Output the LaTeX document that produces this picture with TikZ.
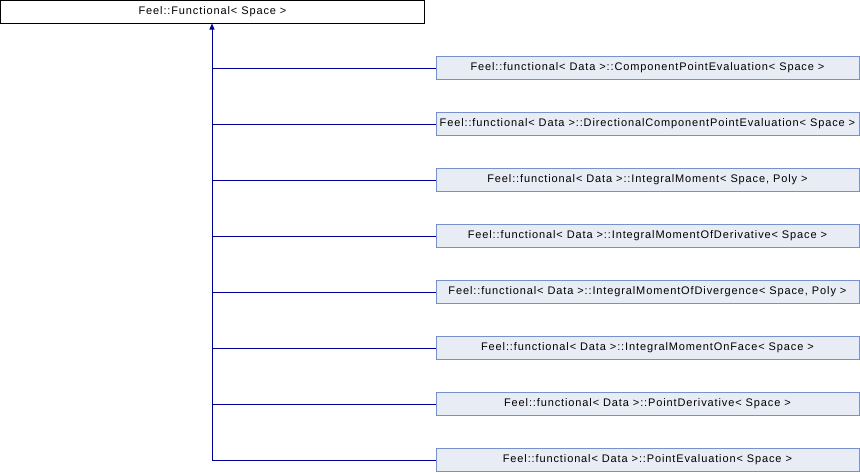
\documentclass[tikz,border=0pt]{standalone}
\usepackage{fontspec}
\setmainfont{Liberation Sans}
\newfontfamily\doxyfont[LetterSpace=8]{Liberation Sans}
\usetikzlibrary{arrows.meta}
\definecolor{edgeblue}{RGB}{0,0,150}
\definecolor{childfill}{RGB}{232,236,245}
\definecolor{childdraw}{RGB}{120,145,204}
\begin{document}
\begin{tikzpicture}[x=1pt,y=-1pt,
  basebox/.style={draw=black,fill=white,line width=0.9pt,minimum width=424pt,minimum height=23pt,inner sep=0pt,font=\doxyfont\fontsize{11pt}{13pt}\selectfont},
  childbox/.style={draw=childdraw,fill=childfill,line width=0.9pt,minimum width=423pt,minimum height=23pt,inner sep=0pt,anchor=west,font=\doxyfont\fontsize{11pt}{13pt}\selectfont},
  edge/.style={draw=edgeblue,line width=0.9pt}]
\useasboundingbox (0,0) rectangle (860,472);
\node[basebox] (base) at (212.5,12) {Feel::Functional< Space >};
\node[childbox] (c1) at (435.5,68) {Feel::functional< Data >::ComponentPointEvaluation< Space >};
\node[childbox] (c2) at (435.5,124) {Feel::functional< Data >::DirectionalComponentPointEvaluation< Space >};
\node[childbox] (c3) at (435.5,180) {Feel::functional< Data >::IntegralMoment< Space, Poly >};
\node[childbox] (c4) at (435.5,236) {Feel::functional< Data >::IntegralMomentOfDerivative< Space >};
\node[childbox] (c5) at (435.5,292) {Feel::functional< Data >::IntegralMomentOfDivergence< Space, Poly >};
\node[childbox] (c6) at (435.5,348) {Feel::functional< Data >::IntegralMomentOnFace< Space >};
\node[childbox] (c7) at (435.5,404) {Feel::functional< Data >::PointDerivative< Space >};
\node[childbox] (c8) at (435.5,460) {Feel::functional< Data >::PointEvaluation< Space >};
\coordinate (trunk) at (212,460);
\draw[edge,-{Triangle[length=6pt,width=5pt]}] (trunk) -- (212,23.5);
\foreach \i in {1,...,8}{
  \draw[edge] (c\i.west) -- (trunk |- c\i.west);
}
\end{tikzpicture}
\end{document}
